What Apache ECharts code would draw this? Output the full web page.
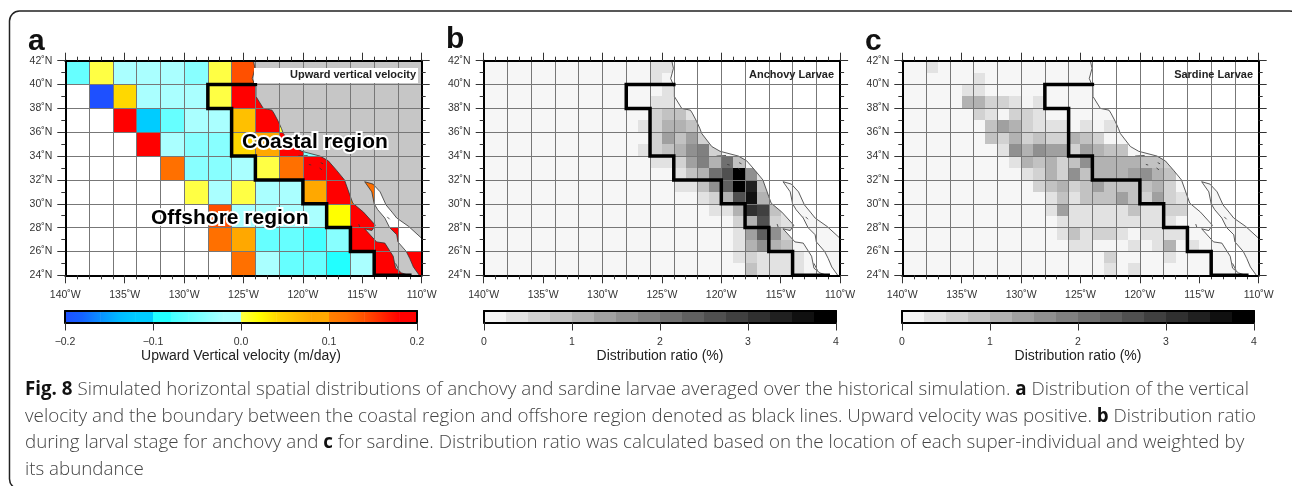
<!DOCTYPE html>
<html>
<head>
<meta charset="utf-8">
<style>html,body{margin:0;padding:0;background:#fff}#c{width:1292px;height:486px}</style>
<script src="https://cdn.jsdelivr.net/npm/echarts@6/dist/echarts.min.js"></script>
</head>
<body>
<div id="c"></div>
<script>
// rows: [south latitude, west longitude of first cell, values eastward]
const velocityRows = [
  [40,-140,[-0.05,0.01,-0.02,-0.01,-0.01,-0.03,0.01,0.15]],
  [38,-138,[-0.19,0.05,-0.01,-0.01,-0.01,0.01,0.19,0.19]],
  [36,-136,[0.19,-0.11,-0.05,-0.01,-0.02,0.07,0.19,0.01]],
  [34,-134,[0.19,-0.01,-0.03,-0.03,0.05,0.08,0.19,-0.03]],
  [32,-132,[0.12,-0.03,-0.03,-0.01,0.01,0.13,0.19,0.19]],
  [30,-130,[0.01,-0.01,0.01,-0.01,-0.01,0.09,0.19,0.12]],
  [28,-128,[0.15,-0.01,-0.01,-0.01,-0.01,0.03,0.19]],
  [26,-128,[0.12,0.09,-0.05,-0.05,-0.07,-0.03,0.19,0.19]],
  [24,-126,[0.12,-0.01,-0.05,-0.05,-0.09,-0.01,0.19,0.19]]
];
const anchovyRows = [
  [41,-126,[.35,.3]],
  [40,-126,[.35,.1]],
  [39,-125,[.35]],
  [38,-126,[.35,.35]],
  [37,-126,[.6,.85,.85,.35]],
  [36,-127,[.35,.6,1.1,1.1,.85,.35]],
  [35,-126,[.6,1.35,.85,1.35,.6,.35]],
  [34,-127,[.35,.6,.85,1.1,1.6,1.85,.6]],
  [33,-126,[.35,.35,.6,1.35,1.85,1.1,2.1,.85]],
  [32,-124,[.35,.85,1.1,2.1,2.6,3.85,1.6,.35]],
  [31,-124,[.35,.35,.85,1.6,2.35,3.85,3.35,.85]],
  [30,-122,[.35,.6,1.1,2.6,3.6,1.1,.35]],
  [29,-121,[.35,.35,1.1,3.1,2.85,.85,.35]],
  [28,-119,[.6,1.1,2.6,.6,.35,.35]],
  [27,-119,[.35,1.35,2.35,1.6,.6]],
  [26,-119,[.35,1.1,1.6,1.1,.85]],
  [25,-119,[.35,.6,.35,.35,.35,.3]],
  [24,-118,[.85,.35,.35,.35,.3]]
];
const sardineRows = [
  [41,-138,[.35]],
  [40,-134,[.35]],
  [39,-135,[.35,.35]],
  [38,-135,[1.1,1.1,.6,.6,.35,.1,.35]],
  [37,-134,[.6,.35,.1,.6,.6,.35]],
  [36,-133,[.85,1.35,1.1,.6,.35,.35,.35,.1,.35,.1,.35]],
  [35,-133,[.85,.6,1.1,.6,.85,.6,.6,1.1,.85,.6]],
  [34,-132,[.35,1.6,1.1,1.6,1.35,1.35,.6,1.35,1.1,.85,.85]],
  [33,-131,[.35,1.1,.85,1.1,.6,.85,1.6,1.1,1.1,1.1,1.1,.85,.85,.6]],
  [32,-130,[.35,.6,1.1,.6,1.6,.85,1.1,1.1,1.1,1.35,1.6,1.1,.85]],
  [31,-129,[.6,.85,1.1,.6,.85,1.35,.85,.85,.85,.85,1.1,.6]],
  [30,-128,[.35,.85,.35,.85,.85,.85,1.35,.85,.6,1.35,.6,.35]],
  [29,-128,[.35,1.35,.35,.35,.35,.35,.35,.85,.35,.35,.6,.6]],
  [28,-127,[.35,.35,.35,.35,.35,.35,.35,.35,.35,.35]],
  [27,-127,[.35,.85,.35,.6,.6,.35,.1,.35,.35,.35,.35]],
  [26,-126,[.35,.35,.1,.1,.1,.35,.1,.35,1.1,.1,.35]],
  [25,-123,[.6]],
  [25,-118,[.35]],
  [24,-123,[.35]],
  [24,-121,[.35]]
];
const boundaryLine = [[-124,40],[-128,40],[-128,38],[-126,38],[-126,34],[-124,34],[-124,32],[-120,32],[-120,30],[-118,30],[-118,28],[-116,28],[-116,26],[-114,26],[-114,24],[-111,24]];
const coastPacific = [[-124.17,42],[-124.03,41.36],[-124.26,40.5],[-123.95,39.77],[-123.95,39],[-123.33,38],[-122.6,37.85],[-122.44,37.6],[-122.07,36.9],[-121.8,36.3],[-121.65,35.9],[-120.8,34.8],[-120.1,34.4],[-118.56,34],[-117.86,33.6],[-117.16,32.8],[-116.5,32],[-116,30.6],[-115.8,30.05],[-114.9,29.3],[-113.9,28.2],[-114.2,27.75],[-114.8,27.9],[-113.8,26.8],[-113.1,26.7],[-112.4,25.6],[-112.2,24.6],[-111.7,24.2],[-111.1,24]];
const coastGulf = [[-110.2,24],[-110.7,24.7],[-111,25.4],[-111.3,26],[-112,26.8],[-112.1,27.4],[-112.7,28],[-113.1,28.8],[-113.7,29.5],[-114,30],[-114.2,31],[-114.8,31.85],[-114.1,31.65],[-113.5,31],[-113,29.9],[-112.5,29.3],[-112.1,28.8],[-111.1,28.1],[-110,27.1]];
const landCorner = [[-110,42]];
const islandBits = [[-120.4,34],[-119.6,34.05],['-','-'],[-119.5,33.3],[-119.3,33.25],['-','-'],[-118.5,33.45],[-118.3,33.35],['-','-'],[-118.6,33],[-118.4,32.85],['-','-'],[-115.3,28.3],[-115.2,28],['-','-'],[-112.2,25],[-111.9,24.4],['-','-'],[-112.9,28.9],[-112.7,28.7]];
const velocityLevels = [-0.2,-0.18,-0.16,-0.14,-0.12,-0.1,-0.08,-0.06,-0.04,-0.02,0,0.02,0.04,0.06,0.08,0.1,0.12,0.14,0.16,0.18];
const ratioLevels = [0,0.25,0.5,0.75,1,1.25,1.5,1.75,2,2.25,2.5,2.75,3,3.25,3.5,3.75];
const velocityPalette = ['#1e50ff','#1464ff','#0a90ff','#00b8ff','#00ccff','#22ffff','#44ffff','#66ffff','#88ffff','#aaffff','#ffff44','#ffff00','#ffd800','#ffc000','#ffa800','#ff8000','#ff7000','#ff5000','#ff2800','#ff0000'];
const ratioPalette = ['#f5f5f5','#e2e2e2','#d2d2d2','#c2c2c2','#b2b2b2','#a0a0a0','#909090','#808080','#707070','#606060','#505050','#404040','#303030','#202020','#101010','#000000'];
const captionLines = [
  '{b|Fig. 8} Simulated horizontal spatial distributions of anchovy and sardine larvae averaged over the historical simulation. {b|a} Distribution of the vertical',
  'velocity and the boundary between the coastal region and offshore region denoted as black lines. Upward velocity was positive. {b|b} Distribution ratio',
  'during larval stage for anchovy and {b|c} for sardine. Distribution ratio was calculated based on the location of each super-individual and weighted by',
  'its abundance'
];

const flat = rows => rows.flatMap(r => r[2].map((v, i) => [r[1] + i, r[0], v]));
const flat2 = rows => rows.flatMap(r => r[2].map((v, i) => [r[1] + i * 2, r[0], v]));
const land = coastPacific.concat(coastGulf, landCorner);
const colorOf = (levels, pal, v) => { let k = 0; levels.forEach((l, i) => { if (v >= l) k = i; }); return pal[k]; };

const lbl = { color: '#333', fontSize: 10.5, fontFamily: 'Liberation Sans' };
const tickStyle = { color: '#333', width: 1 };
const frame = { show: true, onZero: false, lineStyle: { color: '#000', width: 2 } };
const panels = [
  { left: 65.3, sea: '#ffffff', land: '#c6c6c6', cells: flat2(velocityRows), size: 2, levels: velocityLevels, pal: velocityPalette, bar: [65, 352], min: -0.2, max: 0.2, iv: 0.1, barLevels: velocityLevels, barStep: 0.02, barPal: velocityPalette, smooth: [0,1,2,3,6,7,8,10,11,12,13,15,16,17,18], title: 'Upward Vertical velocity (m/day)' },
  { left: 483.7, sea: '#f6f6f6', land: '#ffffff', cells: flat(anchovyRows), size: 1, levels: ratioLevels, pal: ratioPalette, bar: [484, 352], min: 0, max: 4, iv: 1, barLevels: ratioLevels, barStep: 0.25, barPal: ratioPalette, smooth: [], title: 'Distribution ratio (%)' },
  { left: 902.3, sea: '#f6f6f6', land: '#ffffff', cells: flat(sardineRows), size: 1, levels: ratioLevels, pal: ratioPalette, bar: [902, 352], min: 0, max: 4, iv: 1, barLevels: ratioLevels, barStep: 0.25, barPal: ratioPalette, smooth: [], title: 'Distribution ratio (%)' }
];
const grid = [], xAxis = [], yAxis = [], series = [];
panels.forEach(p => {
  const g = grid.length;
  grid.push({ left: p.left, top: 60.7, width: 356.4, height: 214.6, backgroundColor: p.sea, show: true, borderWidth: 0 });
  const lonBase = { type: 'value', gridIndex: g, min: -140, max: -110, z: 4 };
  const x0 = xAxis.length;
  xAxis.push(Object.assign({}, lonBase, { position: 'bottom', interval: 5, axisLine: frame, splitLine: { show: false },
    axisTick: { show: true, length: 8, lineStyle: tickStyle }, minorTick: { show: true, splitNumber: 5, length: 4, lineStyle: tickStyle },
    axisLabel: Object.assign({}, lbl, { margin: 14, formatter: v => Math.abs(v) + '˚W' }) }));
  xAxis.push(Object.assign({}, lonBase, { position: 'top', interval: 5, axisLine: frame, splitLine: { show: false },
    axisTick: { show: true, length: 8, lineStyle: tickStyle }, minorTick: { show: true, splitNumber: 5, length: 4, lineStyle: tickStyle }, axisLabel: { show: false } }));
  xAxis.push(Object.assign({}, lonBase, { position: 'bottom', interval: 2, axisLine: { show: false }, axisTick: { show: false }, axisLabel: { show: false },
    splitLine: { show: true, lineStyle: { color: '#777', width: 1 } } }));
  const y0 = yAxis.length;
  const latBase = { type: 'value', gridIndex: g, min: 24, max: 42, interval: 2, z: 4, axisLine: frame,
    axisTick: { show: true, length: 8, lineStyle: tickStyle }, minorTick: { show: true, splitNumber: 2, length: 4, lineStyle: tickStyle } };
  yAxis.push(Object.assign({}, latBase, { position: 'left', splitLine: { show: true, lineStyle: { color: '#777', width: 1 } },
    axisLabel: Object.assign({}, lbl, { margin: 13, formatter: v => v + '˚N' }) }));
  yAxis.push(Object.assign({}, latBase, { position: 'right', splitLine: { show: false }, axisLabel: { show: false } }));

  series.push({ type: 'custom', xAxisIndex: x0, yAxisIndex: y0, z: 2, silent: true, data: p.cells, encode: { x: 0, y: 1 },
    renderItem: (params, api) => {
      const a = api.coord([api.value(0), api.value(1) + p.size]);
      const b = api.coord([api.value(0) + p.size, api.value(1)]);
      const x = Math.round(a[0]), y = Math.round(a[1]);
      return { type: 'rect', shape: { x, y, width: Math.round(b[0]) - x, height: Math.round(b[1]) - y },
        style: { fill: colorOf(p.levels, p.pal, api.value(2)) } };
    } });
  series.push({ type: 'custom', xAxisIndex: x0, yAxisIndex: y0, z: 3, silent: true, data: land, encode: { x: 0, y: 1 },
    renderItem: (params, api) => params.dataIndex === 0 ? { type: 'polygon', shape: { points: land.map(q => api.coord(q)) }, style: { fill: p.land } } : null });
  [coastPacific, coastGulf, islandBits].forEach(d => series.push({ type: 'line', xAxisIndex: x0, yAxisIndex: y0, z: 3, silent: true, data: d, showSymbol: false, connectNulls: false,
    lineStyle: { color: '#333', width: 0.8 }, clip: true }));
  series.push({ type: 'line', xAxisIndex: x0, yAxisIndex: y0, z: 6, silent: true, data: boundaryLine, showSymbol: false, lineStyle: { color: '#000', width: 3.5, join: 'miter', cap: 'square' } });

  // colour bar
  const gb = grid.length;
  grid.push({ left: p.bar[0], top: 311, width: p.bar[1], height: 11.5 });
  const bx = xAxis.length, by = yAxis.length;
  xAxis.push({ type: 'value', gridIndex: gb, min: p.min, max: p.max, interval: p.iv, position: 'bottom', z: 4, axisLine: frame,
    axisTick: { show: true, length: 8, lineStyle: tickStyle }, splitLine: { show: false }, minorTick: { show: false },
    axisLabel: Object.assign({}, lbl, { margin: 14, showMinLabel: true, showMaxLabel: true, fontSize: 10.5,
      formatter: v => p.iv < 1 ? (v < 0 ? '\u2212' + Math.abs(v).toFixed(1) : v.toFixed(1)) : String(v) }),
    name: p.title, nameLocation: 'middle', nameGap: 27, nameTextStyle: { color: '#222', fontSize: 14, fontFamily: 'Liberation Sans' } });
  xAxis.push({ type: 'value', gridIndex: gb, min: p.min, max: p.max, interval: p.iv, position: 'top', z: 4, axisLine: frame, axisTick: { show: false }, axisLabel: { show: false }, splitLine: { show: false } });
  const by0 = { type: 'value', gridIndex: gb, min: 0, max: 1, interval: 1, z: 4, axisLine: frame, axisTick: { show: false }, axisLabel: { show: false }, splitLine: { show: false } };
  yAxis.push(Object.assign({}, by0, { position: 'left' }));
  yAxis.push(Object.assign({}, by0, { position: 'right' }));
  series.push({ type: 'custom', xAxisIndex: bx, yAxisIndex: by, z: 2, silent: true, data: p.barLevels.map(l => [l]), encode: { x: 0 },
    renderItem: (params, api) => {
      const i = params.dataIndex;
      const a = api.coord([api.value(0), 1]), b = api.coord([api.value(0) + p.barStep, 0]);
      const fill = p.smooth.includes(i)
        ? new echarts.graphic.LinearGradient(0, 0, 1, 0, [{ offset: 0, color: p.barPal[i] }, { offset: 1, color: p.barPal[i + 1] }])
        : p.barPal[i];
      return { type: 'rect', shape: { x: a[0], y: a[1], width: b[0] - a[0] + 0.5, height: b[1] - a[1] }, style: { fill } };
    } });
});

const txt = (x, y, text, extra) => ({ type: 'text', x, y, z: 20, silent: true, style: Object.assign({ text, fontFamily: 'Liberation Sans', fill: '#222', verticalAlign: 'middle' }, extra) });
const graphic = [
  { type: 'rect', silent: true, z: 0, shape: { x: 9.5, y: 11, width: 1290, height: 478, r: 10 }, style: { fill: 'none', stroke: '#222', lineWidth: 1.5 } },
  { type: 'rect', silent: true, z: 9, shape: { x: 254, y: 68, width: 164, height: 15 }, style: { fill: '#fff' } },
  txt(28, 42, 'a', { fontSize: 30, fontWeight: 'bold', fill: '#111' }),
  txt(446, 40, 'b', { fontSize: 30, fontWeight: 'bold', fill: '#111' }),
  txt(865, 42, 'c', { fontSize: 30, fontWeight: 'bold', fill: '#111' }),
  txt(416, 75, 'Upward vertical velocity', { fontSize: 11, fontWeight: 'bold', align: 'right' }),
  txt(834, 75, 'Anchovy Larvae', { fontSize: 11, fontWeight: 'bold', align: 'right' }),
  txt(1253, 75, 'Sardine Larvae', { fontSize: 11, fontWeight: 'bold', align: 'right' }),
  txt(242, 142, 'Coastal region', { fontSize: 21, fontWeight: 'bold', fill: '#000', stroke: '#fff', lineWidth: 4 }),
  txt(151, 218, 'Offshore region', { fontSize: 21, fontWeight: 'bold', fill: '#000', stroke: '#fff', lineWidth: 4 })
];
captionLines.forEach((t, i) => graphic.push(txt(25, [390, 416.5, 443, 470][i], t, { fontFamily: 'Open Sans', fontSize: 18.75, fontWeight: 300, fill: '#444',
  rich: { b: { fontFamily: 'Open Sans', fontSize: 18.75, fontWeight: 'bold', fill: '#111' } } })));

const chart = echarts.init(document.getElementById('c'), null, { renderer: 'canvas' });
chart.setOption({ animation: false, grid, xAxis, yAxis, series, graphic });
</script>
</body>
</html>
